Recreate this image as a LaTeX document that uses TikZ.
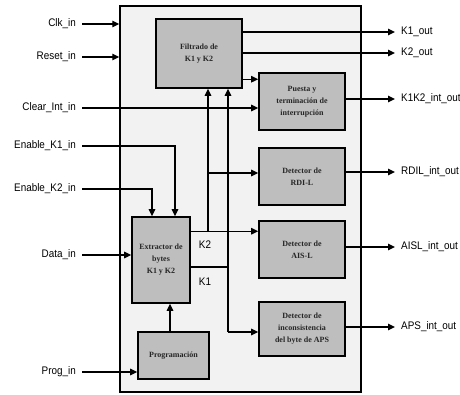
\documentclass[tikz,border=0pt]{standalone}
\usepackage{fontspec}
\setmainfont{Liberation Serif}
\newfontfamily\lblfont[FakeStretch=0.9]{Liberation Sans}
\usetikzlibrary{arrows.meta}
\begin{document}
\begin{tikzpicture}[x=1pt,y=-1pt,
  blk/.style={draw, line width=1.6pt, fill={rgb,255:red,190;green,190;blue,190},
    font=\bfseries\fontsize{8}{12}\selectfont, align=center, inner sep=0pt, text=black!85},
  lbl/.style={font=\lblfont\fontsize{11}{12}\selectfont, inner xsep=6pt, inner ysep=1pt},
  arr/.style={line width=1.3pt, -{Triangle[length=7pt,width=6.5pt]}},
  ln/.style={line width=1.3pt}]
\useasboundingbox (0,0) rectangle (460,394);
% outer block
\node[draw, line width=1.4pt, fill=black!5, minimum width=241pt, minimum height=386pt, inner sep=0pt] (outer) at (240.5,199) {};
% inner blocks
\node[blk, minimum width=86pt, minimum height=69pt] (filt) at (199,53.5) {Filtrado de\\K1 y K2};
\node[blk, minimum width=86pt, minimum height=57pt] (pue) at (302,101.5) {Puesta y\\terminación de\\interrupción};
\node[blk, minimum width=86pt, minimum height=57pt] (rdi) at (302,176.5) {Detector de\\RDI-L};
\node[blk, minimum width=86pt, minimum height=57pt] (ais) at (302,249.5) {Detector de\\AIS-L};
\node[blk, minimum width=86pt, minimum height=54pt] (aps) at (302,329) {Detector de\\inconsistencia\\del byte de APS};
\node[blk, minimum width=58pt, minimum height=86pt] (ext) at (161,260) {Extractor de\\bytes\\K1 y K2};
\node[blk, minimum width=71pt, minimum height=47pt] (prog) at (173.5,355.5) {Programación};
% input labels
\node[lbl, anchor=east] (clk) at (82,24) {Clk\_in};
\node[lbl, anchor=east] (rst) at (82,57) {Reset\_in};
\node[lbl, anchor=east] (clr) at (82,108) {Clear\_Int\_in};
\node[lbl, anchor=east] (ek1) at (82,146) {Enable\_K1\_in};
\node[lbl, anchor=east] (ek2) at (82,189) {Enable\_K2\_in};
\node[lbl, anchor=east] (dat) at (82,255) {Data\_in};
\node[lbl, anchor=east] (prg) at (82,372) {Prog\_in};
% output labels
\node[lbl, anchor=west] (k1o) at (395,32) {K1\_out};
\node[lbl, anchor=west] (k2o) at (395,53) {K2\_out};
\node[lbl, anchor=west] (kio) at (395,99) {K1K2\_int\_out};
\node[lbl, anchor=west] (rdo) at (395,172) {RDIL\_int\_out};
\node[lbl, anchor=west] (aio) at (395,247) {AISL\_int\_out};
\node[lbl, anchor=west] (apo) at (395,327) {APS\_int\_out};
% K labels
\node[lbl, inner xsep=0pt] (k2l) at (205,245) {K2};
\node[lbl, inner xsep=0pt] (k1l) at (205,282) {K1};
% helper coordinates
\coordinate (p1) at ([yshift=-7pt]pue.north west);
\coordinate (k2s) at ([yshift=-15pt]ext.north east);
\coordinate (k1s) at ([yshift=-7pt]ext.east);
\coordinate (v1) at ([xshift=9pt]filt.south);
\coordinate (v2) at ([xshift=29pt]filt.south);
\coordinate (rdi1) at ([yshift=3.5pt]rdi.west);
\coordinate (aps1) at ([yshift=-3pt]aps.west);
% inputs
\draw[arr] (clk.east) -- (clk.east -| outer.west);
\draw[arr] (rst.east) -- (rst.east -| outer.west);
\draw[arr] (clr.east) -- (clr.east -| pue.west);
\draw[arr] (ek1.east) -| ([xshift=14pt]ext.north);
\draw[arr] (ek2.east) -| ([xshift=-9pt]ext.north);
\draw[arr] (dat.east) -- (dat.east -| ext.west);
\draw[arr] (prg.east) -- (prg.east -| prog.west);
\draw[arr] ([xshift=-3.5pt]prog.north) -- ([xshift=-3.5pt]prog.north |- ext.south);
% internal
\draw[arr] (filt.east |- p1) -- (p1);
\draw[arr] (k2s) -- (k2s -| ais.west);
\draw[arr] (v1 |- k2s) -- (v1);
\draw[arr] (v1 |- rdi1) -- (rdi1);
\draw[ln] (k1s) -- (k1s -| v2);
\draw[arr] (v2 |- aps1) -- (v2);
\draw[arr] (v2 |- aps1) -- (aps1);
% outputs
\draw[arr] (k1o.west -| filt.east) -- (k1o.west);
\draw[arr] (k2o.west -| filt.east) -- (k2o.west);
\draw[arr] (kio.west -| pue.east) -- (kio.west);
\draw[arr] (rdo.west -| rdi.east) -- (rdo.west);
\draw[arr] (aio.west -| ais.east) -- (aio.west);
\draw[arr] (apo.west -| aps.east) -- (apo.west);
\end{tikzpicture}
\end{document}
